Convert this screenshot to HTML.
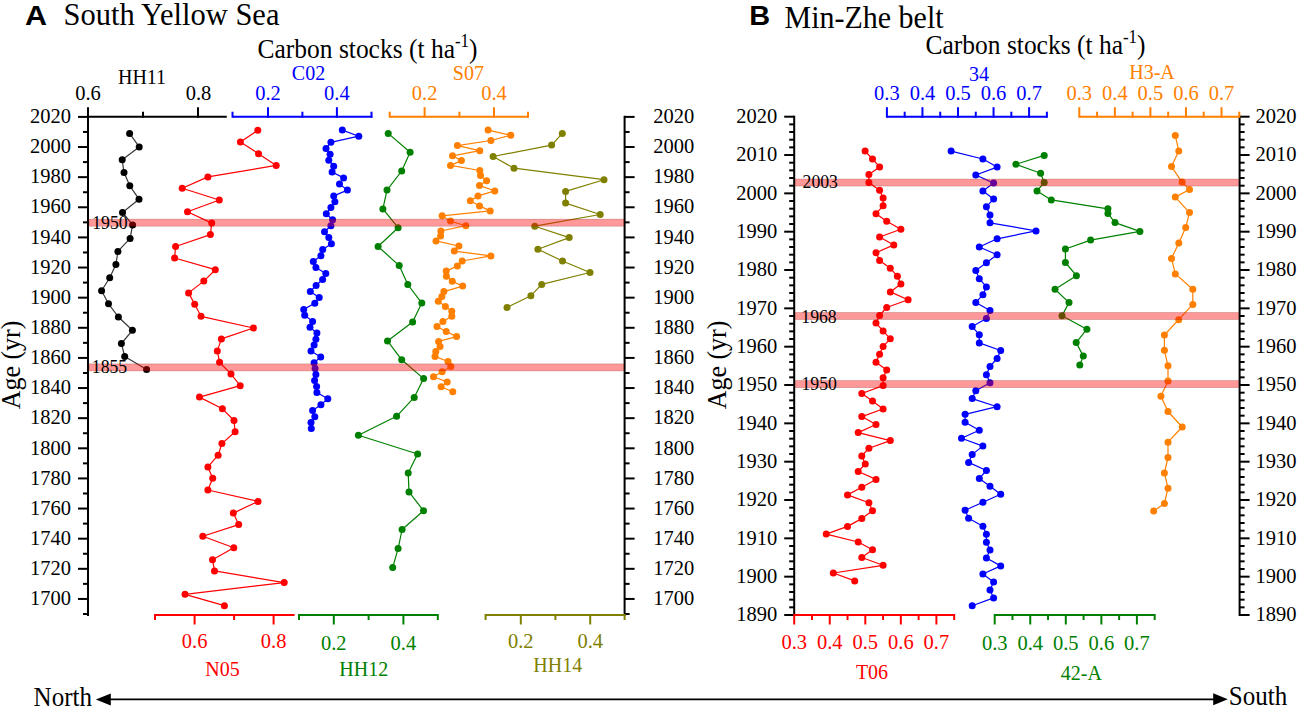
<!DOCTYPE html>
<html><head><meta charset="utf-8"><title>Carbon stocks</title>
<style>html,body{margin:0;padding:0;background:#fff;width:1299px;height:708px;overflow:hidden;font-family:"Liberation Serif",serif}
svg{display:block}</style></head><body>
<svg width="1299" height="708" viewBox="0 0 1299 708">
<rect x="0" y="0" width="1299" height="708" fill="#ffffff"/>
<text transform="translate(25 25) scale(1.11 1)" fill="#000" font-size="27.5" font-family='"Liberation Sans", sans-serif' font-weight="bold">A</text>
<text transform="translate(63.5 24.7) scale(1 1.06)" fill="#000000" font-size="30.5" text-anchor="start" font-family='"Liberation Serif", serif' font-weight="normal" >South Yellow Sea</text>
<text transform="translate(749.3 25.3) scale(1.07 1)" fill="#000" font-size="27" font-family='"Liberation Sans", sans-serif' font-weight="bold">B</text>
<text transform="translate(784.5 28.2) scale(1 1.06)" fill="#000000" font-size="30" text-anchor="start" font-family='"Liberation Serif", serif' font-weight="normal" >Min-Zhe belt</text>
<text transform="translate(257.5 57.7) scale(1 1.05)" fill="#000" font-size="25.5" font-family='"Liberation Serif", serif'>Carbon stocks (t ha<tspan font-size="17" dy="-10.5">-1</tspan><tspan dy="10.5">)</tspan></text>
<text transform="translate(925.5 53.8) scale(1 1.05)" fill="#000" font-size="25.5" font-family='"Liberation Serif", serif'>Carbon stocks (t ha<tspan font-size="17" dy="-10.5">-1</tspan><tspan dy="10.5">)</tspan></text>
<text transform="translate(20,365) rotate(-90) scale(1 1.05)" fill="#000" font-size="26" text-anchor="middle" font-family='"Liberation Serif", serif'>Age (yr)</text>
<text transform="translate(726,365) rotate(-90) scale(1 1.05)" fill="#000" font-size="26" text-anchor="middle" font-family='"Liberation Serif", serif'>Age (yr)</text>
<line x1="88" y1="115.7" x2="88" y2="616" stroke="#000000" stroke-width="2"/>
<line x1="78" y1="116.9" x2="88" y2="116.9" stroke="#000000" stroke-width="2"/>
<text transform="translate(71 123.1) scale(1 1.06)" fill="#000000" font-size="20.5" text-anchor="end" font-family='"Liberation Serif", serif' font-weight="normal" >2020</text>
<line x1="83" y1="131.96" x2="88" y2="131.96" stroke="#000000" stroke-width="2"/>
<line x1="78" y1="147.03" x2="88" y2="147.03" stroke="#000000" stroke-width="2"/>
<text transform="translate(71 153.23) scale(1 1.06)" fill="#000000" font-size="20.5" text-anchor="end" font-family='"Liberation Serif", serif' font-weight="normal" >2000</text>
<line x1="83" y1="162.09" x2="88" y2="162.09" stroke="#000000" stroke-width="2"/>
<line x1="78" y1="177.15" x2="88" y2="177.15" stroke="#000000" stroke-width="2"/>
<text transform="translate(71 183.35) scale(1 1.06)" fill="#000000" font-size="20.5" text-anchor="end" font-family='"Liberation Serif", serif' font-weight="normal" >1980</text>
<line x1="83" y1="192.22" x2="88" y2="192.22" stroke="#000000" stroke-width="2"/>
<line x1="78" y1="207.28" x2="88" y2="207.28" stroke="#000000" stroke-width="2"/>
<text transform="translate(71 213.48) scale(1 1.06)" fill="#000000" font-size="20.5" text-anchor="end" font-family='"Liberation Serif", serif' font-weight="normal" >1960</text>
<line x1="83" y1="222.35" x2="88" y2="222.35" stroke="#000000" stroke-width="2"/>
<line x1="78" y1="237.41" x2="88" y2="237.41" stroke="#000000" stroke-width="2"/>
<text transform="translate(71 243.61) scale(1 1.06)" fill="#000000" font-size="20.5" text-anchor="end" font-family='"Liberation Serif", serif' font-weight="normal" >1940</text>
<line x1="83" y1="252.47" x2="88" y2="252.47" stroke="#000000" stroke-width="2"/>
<line x1="78" y1="267.54" x2="88" y2="267.54" stroke="#000000" stroke-width="2"/>
<text transform="translate(71 273.74) scale(1 1.06)" fill="#000000" font-size="20.5" text-anchor="end" font-family='"Liberation Serif", serif' font-weight="normal" >1920</text>
<line x1="83" y1="282.6" x2="88" y2="282.6" stroke="#000000" stroke-width="2"/>
<line x1="78" y1="297.66" x2="88" y2="297.66" stroke="#000000" stroke-width="2"/>
<text transform="translate(71 303.86) scale(1 1.06)" fill="#000000" font-size="20.5" text-anchor="end" font-family='"Liberation Serif", serif' font-weight="normal" >1900</text>
<line x1="83" y1="312.73" x2="88" y2="312.73" stroke="#000000" stroke-width="2"/>
<line x1="78" y1="327.79" x2="88" y2="327.79" stroke="#000000" stroke-width="2"/>
<text transform="translate(71 333.99) scale(1 1.06)" fill="#000000" font-size="20.5" text-anchor="end" font-family='"Liberation Serif", serif' font-weight="normal" >1880</text>
<line x1="83" y1="342.85" x2="88" y2="342.85" stroke="#000000" stroke-width="2"/>
<line x1="78" y1="357.92" x2="88" y2="357.92" stroke="#000000" stroke-width="2"/>
<text transform="translate(71 364.12) scale(1 1.06)" fill="#000000" font-size="20.5" text-anchor="end" font-family='"Liberation Serif", serif' font-weight="normal" >1860</text>
<line x1="83" y1="372.98" x2="88" y2="372.98" stroke="#000000" stroke-width="2"/>
<line x1="78" y1="388.05" x2="88" y2="388.05" stroke="#000000" stroke-width="2"/>
<text transform="translate(71 394.25) scale(1 1.06)" fill="#000000" font-size="20.5" text-anchor="end" font-family='"Liberation Serif", serif' font-weight="normal" >1840</text>
<line x1="83" y1="403.11" x2="88" y2="403.11" stroke="#000000" stroke-width="2"/>
<line x1="78" y1="418.17" x2="88" y2="418.17" stroke="#000000" stroke-width="2"/>
<text transform="translate(71 424.37) scale(1 1.06)" fill="#000000" font-size="20.5" text-anchor="end" font-family='"Liberation Serif", serif' font-weight="normal" >1820</text>
<line x1="83" y1="433.24" x2="88" y2="433.24" stroke="#000000" stroke-width="2"/>
<line x1="78" y1="448.3" x2="88" y2="448.3" stroke="#000000" stroke-width="2"/>
<text transform="translate(71 454.5) scale(1 1.06)" fill="#000000" font-size="20.5" text-anchor="end" font-family='"Liberation Serif", serif' font-weight="normal" >1800</text>
<line x1="83" y1="463.36" x2="88" y2="463.36" stroke="#000000" stroke-width="2"/>
<line x1="78" y1="478.43" x2="88" y2="478.43" stroke="#000000" stroke-width="2"/>
<text transform="translate(71 484.63) scale(1 1.06)" fill="#000000" font-size="20.5" text-anchor="end" font-family='"Liberation Serif", serif' font-weight="normal" >1780</text>
<line x1="83" y1="493.49" x2="88" y2="493.49" stroke="#000000" stroke-width="2"/>
<line x1="78" y1="508.55" x2="88" y2="508.55" stroke="#000000" stroke-width="2"/>
<text transform="translate(71 514.75) scale(1 1.06)" fill="#000000" font-size="20.5" text-anchor="end" font-family='"Liberation Serif", serif' font-weight="normal" >1760</text>
<line x1="83" y1="523.62" x2="88" y2="523.62" stroke="#000000" stroke-width="2"/>
<line x1="78" y1="538.68" x2="88" y2="538.68" stroke="#000000" stroke-width="2"/>
<text transform="translate(71 544.88) scale(1 1.06)" fill="#000000" font-size="20.5" text-anchor="end" font-family='"Liberation Serif", serif' font-weight="normal" >1740</text>
<line x1="83" y1="553.75" x2="88" y2="553.75" stroke="#000000" stroke-width="2"/>
<line x1="78" y1="568.81" x2="88" y2="568.81" stroke="#000000" stroke-width="2"/>
<text transform="translate(71 575.01) scale(1 1.06)" fill="#000000" font-size="20.5" text-anchor="end" font-family='"Liberation Serif", serif' font-weight="normal" >1720</text>
<line x1="83" y1="583.87" x2="88" y2="583.87" stroke="#000000" stroke-width="2"/>
<line x1="78" y1="598.94" x2="88" y2="598.94" stroke="#000000" stroke-width="2"/>
<text transform="translate(71 605.14) scale(1 1.06)" fill="#000000" font-size="20.5" text-anchor="end" font-family='"Liberation Serif", serif' font-weight="normal" >1700</text>
<line x1="83" y1="614" x2="88" y2="614" stroke="#000000" stroke-width="2"/>
<line x1="624.6" y1="115.7" x2="624.6" y2="616" stroke="#000000" stroke-width="2"/>
<line x1="624.6" y1="116.9" x2="634.6" y2="116.9" stroke="#000000" stroke-width="2"/>
<text transform="translate(653.3 123.1) scale(1 1.06)" fill="#000000" font-size="20.5" text-anchor="start" font-family='"Liberation Serif", serif' font-weight="normal" >2020</text>
<line x1="624.6" y1="131.96" x2="629.6" y2="131.96" stroke="#000000" stroke-width="2"/>
<line x1="624.6" y1="147.03" x2="634.6" y2="147.03" stroke="#000000" stroke-width="2"/>
<text transform="translate(653.3 153.23) scale(1 1.06)" fill="#000000" font-size="20.5" text-anchor="start" font-family='"Liberation Serif", serif' font-weight="normal" >2000</text>
<line x1="624.6" y1="162.09" x2="629.6" y2="162.09" stroke="#000000" stroke-width="2"/>
<line x1="624.6" y1="177.15" x2="634.6" y2="177.15" stroke="#000000" stroke-width="2"/>
<text transform="translate(653.3 183.35) scale(1 1.06)" fill="#000000" font-size="20.5" text-anchor="start" font-family='"Liberation Serif", serif' font-weight="normal" >1980</text>
<line x1="624.6" y1="192.22" x2="629.6" y2="192.22" stroke="#000000" stroke-width="2"/>
<line x1="624.6" y1="207.28" x2="634.6" y2="207.28" stroke="#000000" stroke-width="2"/>
<text transform="translate(653.3 213.48) scale(1 1.06)" fill="#000000" font-size="20.5" text-anchor="start" font-family='"Liberation Serif", serif' font-weight="normal" >1960</text>
<line x1="624.6" y1="222.35" x2="629.6" y2="222.35" stroke="#000000" stroke-width="2"/>
<line x1="624.6" y1="237.41" x2="634.6" y2="237.41" stroke="#000000" stroke-width="2"/>
<text transform="translate(653.3 243.61) scale(1 1.06)" fill="#000000" font-size="20.5" text-anchor="start" font-family='"Liberation Serif", serif' font-weight="normal" >1940</text>
<line x1="624.6" y1="252.47" x2="629.6" y2="252.47" stroke="#000000" stroke-width="2"/>
<line x1="624.6" y1="267.54" x2="634.6" y2="267.54" stroke="#000000" stroke-width="2"/>
<text transform="translate(653.3 273.74) scale(1 1.06)" fill="#000000" font-size="20.5" text-anchor="start" font-family='"Liberation Serif", serif' font-weight="normal" >1920</text>
<line x1="624.6" y1="282.6" x2="629.6" y2="282.6" stroke="#000000" stroke-width="2"/>
<line x1="624.6" y1="297.66" x2="634.6" y2="297.66" stroke="#000000" stroke-width="2"/>
<text transform="translate(653.3 303.86) scale(1 1.06)" fill="#000000" font-size="20.5" text-anchor="start" font-family='"Liberation Serif", serif' font-weight="normal" >1900</text>
<line x1="624.6" y1="312.73" x2="629.6" y2="312.73" stroke="#000000" stroke-width="2"/>
<line x1="624.6" y1="327.79" x2="634.6" y2="327.79" stroke="#000000" stroke-width="2"/>
<text transform="translate(653.3 333.99) scale(1 1.06)" fill="#000000" font-size="20.5" text-anchor="start" font-family='"Liberation Serif", serif' font-weight="normal" >1880</text>
<line x1="624.6" y1="342.85" x2="629.6" y2="342.85" stroke="#000000" stroke-width="2"/>
<line x1="624.6" y1="357.92" x2="634.6" y2="357.92" stroke="#000000" stroke-width="2"/>
<text transform="translate(653.3 364.12) scale(1 1.06)" fill="#000000" font-size="20.5" text-anchor="start" font-family='"Liberation Serif", serif' font-weight="normal" >1860</text>
<line x1="624.6" y1="372.98" x2="629.6" y2="372.98" stroke="#000000" stroke-width="2"/>
<line x1="624.6" y1="388.05" x2="634.6" y2="388.05" stroke="#000000" stroke-width="2"/>
<text transform="translate(653.3 394.25) scale(1 1.06)" fill="#000000" font-size="20.5" text-anchor="start" font-family='"Liberation Serif", serif' font-weight="normal" >1840</text>
<line x1="624.6" y1="403.11" x2="629.6" y2="403.11" stroke="#000000" stroke-width="2"/>
<line x1="624.6" y1="418.17" x2="634.6" y2="418.17" stroke="#000000" stroke-width="2"/>
<text transform="translate(653.3 424.37) scale(1 1.06)" fill="#000000" font-size="20.5" text-anchor="start" font-family='"Liberation Serif", serif' font-weight="normal" >1820</text>
<line x1="624.6" y1="433.24" x2="629.6" y2="433.24" stroke="#000000" stroke-width="2"/>
<line x1="624.6" y1="448.3" x2="634.6" y2="448.3" stroke="#000000" stroke-width="2"/>
<text transform="translate(653.3 454.5) scale(1 1.06)" fill="#000000" font-size="20.5" text-anchor="start" font-family='"Liberation Serif", serif' font-weight="normal" >1800</text>
<line x1="624.6" y1="463.36" x2="629.6" y2="463.36" stroke="#000000" stroke-width="2"/>
<line x1="624.6" y1="478.43" x2="634.6" y2="478.43" stroke="#000000" stroke-width="2"/>
<text transform="translate(653.3 484.63) scale(1 1.06)" fill="#000000" font-size="20.5" text-anchor="start" font-family='"Liberation Serif", serif' font-weight="normal" >1780</text>
<line x1="624.6" y1="493.49" x2="629.6" y2="493.49" stroke="#000000" stroke-width="2"/>
<line x1="624.6" y1="508.55" x2="634.6" y2="508.55" stroke="#000000" stroke-width="2"/>
<text transform="translate(653.3 514.75) scale(1 1.06)" fill="#000000" font-size="20.5" text-anchor="start" font-family='"Liberation Serif", serif' font-weight="normal" >1760</text>
<line x1="624.6" y1="523.62" x2="629.6" y2="523.62" stroke="#000000" stroke-width="2"/>
<line x1="624.6" y1="538.68" x2="634.6" y2="538.68" stroke="#000000" stroke-width="2"/>
<text transform="translate(653.3 544.88) scale(1 1.06)" fill="#000000" font-size="20.5" text-anchor="start" font-family='"Liberation Serif", serif' font-weight="normal" >1740</text>
<line x1="624.6" y1="553.75" x2="629.6" y2="553.75" stroke="#000000" stroke-width="2"/>
<line x1="624.6" y1="568.81" x2="634.6" y2="568.81" stroke="#000000" stroke-width="2"/>
<text transform="translate(653.3 575.01) scale(1 1.06)" fill="#000000" font-size="20.5" text-anchor="start" font-family='"Liberation Serif", serif' font-weight="normal" >1720</text>
<line x1="624.6" y1="583.87" x2="629.6" y2="583.87" stroke="#000000" stroke-width="2"/>
<line x1="624.6" y1="598.94" x2="634.6" y2="598.94" stroke="#000000" stroke-width="2"/>
<text transform="translate(653.3 605.14) scale(1 1.06)" fill="#000000" font-size="20.5" text-anchor="start" font-family='"Liberation Serif", serif' font-weight="normal" >1700</text>
<line x1="624.6" y1="614" x2="629.6" y2="614" stroke="#000000" stroke-width="2"/>
<line x1="88" y1="116.7" x2="226.8" y2="116.7" stroke="#000000" stroke-width="2"/>
<line x1="88" y1="117.7" x2="88" y2="107.2" stroke="#000000" stroke-width="2"/>
<line x1="143" y1="117.7" x2="143" y2="111.7" stroke="#000000" stroke-width="2"/>
<line x1="198" y1="117.7" x2="198" y2="107.2" stroke="#000000" stroke-width="2"/>
<text transform="translate(88 100.2) scale(1 1.06)" fill="#000000" font-size="20.5" text-anchor="middle" font-family='"Liberation Serif", serif' font-weight="normal" >0.6</text>
<text transform="translate(198.5 100.2) scale(1 1.06)" fill="#000000" font-size="20.5" text-anchor="middle" font-family='"Liberation Serif", serif' font-weight="normal" >0.8</text>
<text transform="translate(142 83.9) scale(1 1.06)" fill="#000000" font-size="20" text-anchor="middle" font-family='"Liberation Serif", serif' font-weight="normal" >HH11</text>
<line x1="232.5" y1="116.7" x2="372.4" y2="116.7" stroke="#0000ff" stroke-width="2"/>
<line x1="232.5" y1="117.7" x2="232.5" y2="111.7" stroke="#0000ff" stroke-width="2"/>
<line x1="268" y1="117.7" x2="268" y2="107.2" stroke="#0000ff" stroke-width="2"/>
<line x1="302.4" y1="117.7" x2="302.4" y2="111.7" stroke="#0000ff" stroke-width="2"/>
<line x1="336.9" y1="117.7" x2="336.9" y2="107.2" stroke="#0000ff" stroke-width="2"/>
<line x1="371.5" y1="117.7" x2="371.5" y2="111.7" stroke="#0000ff" stroke-width="2"/>
<text transform="translate(268 100.2) scale(1 1.06)" fill="#0000ff" font-size="20.5" text-anchor="middle" font-family='"Liberation Serif", serif' font-weight="normal" >0.2</text>
<text transform="translate(336.9 100.2) scale(1 1.06)" fill="#0000ff" font-size="20.5" text-anchor="middle" font-family='"Liberation Serif", serif' font-weight="normal" >0.4</text>
<text transform="translate(308.5 80.3) scale(1 1.06)" fill="#0000ff" font-size="20" text-anchor="middle" font-family='"Liberation Serif", serif' font-weight="normal" >C02</text>
<line x1="389.7" y1="116.7" x2="528.7" y2="116.7" stroke="#ff8000" stroke-width="2"/>
<line x1="389.7" y1="117.7" x2="389.7" y2="111.7" stroke="#ff8000" stroke-width="2"/>
<line x1="424.6" y1="117.7" x2="424.6" y2="107.2" stroke="#ff8000" stroke-width="2"/>
<line x1="459.4" y1="117.7" x2="459.4" y2="111.7" stroke="#ff8000" stroke-width="2"/>
<line x1="494" y1="117.7" x2="494" y2="107.2" stroke="#ff8000" stroke-width="2"/>
<line x1="528" y1="117.7" x2="528" y2="111.7" stroke="#ff8000" stroke-width="2"/>
<text transform="translate(424.6 100.2) scale(1 1.06)" fill="#ff8000" font-size="20.5" text-anchor="middle" font-family='"Liberation Serif", serif' font-weight="normal" >0.2</text>
<text transform="translate(494 100.2) scale(1 1.06)" fill="#ff8000" font-size="20.5" text-anchor="middle" font-family='"Liberation Serif", serif' font-weight="normal" >0.4</text>
<text transform="translate(468.4 80) scale(1 1.06)" fill="#ff8000" font-size="20" text-anchor="middle" font-family='"Liberation Serif", serif' font-weight="normal" >S07</text>
<line x1="155" y1="615" x2="294.6" y2="615" stroke="#ff0000" stroke-width="2"/>
<line x1="155" y1="614" x2="155" y2="620" stroke="#ff0000" stroke-width="2"/>
<line x1="194.6" y1="614" x2="194.6" y2="624.5" stroke="#ff0000" stroke-width="2"/>
<line x1="234.1" y1="614" x2="234.1" y2="620" stroke="#ff0000" stroke-width="2"/>
<line x1="273.6" y1="614" x2="273.6" y2="624.5" stroke="#ff0000" stroke-width="2"/>
<text transform="translate(194.6 648) scale(1 1.06)" fill="#ff0000" font-size="20.5" text-anchor="middle" font-family='"Liberation Serif", serif' font-weight="normal" >0.6</text>
<text transform="translate(273.6 648) scale(1 1.06)" fill="#ff0000" font-size="20.5" text-anchor="middle" font-family='"Liberation Serif", serif' font-weight="normal" >0.8</text>
<text transform="translate(222.5 676) scale(1 1.06)" fill="#ff0000" font-size="20" text-anchor="middle" font-family='"Liberation Serif", serif' font-weight="normal" >N05</text>
<line x1="299" y1="615" x2="438" y2="615" stroke="#008000" stroke-width="2"/>
<line x1="299" y1="614" x2="299" y2="620" stroke="#008000" stroke-width="2"/>
<line x1="333.8" y1="614" x2="333.8" y2="624.5" stroke="#008000" stroke-width="2"/>
<line x1="368.6" y1="614" x2="368.6" y2="620" stroke="#008000" stroke-width="2"/>
<line x1="403.4" y1="614" x2="403.4" y2="624.5" stroke="#008000" stroke-width="2"/>
<line x1="437.8" y1="614" x2="437.8" y2="620" stroke="#008000" stroke-width="2"/>
<text transform="translate(333.8 650) scale(1 1.06)" fill="#008000" font-size="20.5" text-anchor="middle" font-family='"Liberation Serif", serif' font-weight="normal" >0.2</text>
<text transform="translate(403.4 650) scale(1 1.06)" fill="#008000" font-size="20.5" text-anchor="middle" font-family='"Liberation Serif", serif' font-weight="normal" >0.4</text>
<text transform="translate(363.8 675.6) scale(1 1.06)" fill="#008000" font-size="20" text-anchor="middle" font-family='"Liberation Serif", serif' font-weight="normal" >HH12</text>
<line x1="485.6" y1="615" x2="625.1" y2="615" stroke="#808000" stroke-width="2"/>
<line x1="485.6" y1="614" x2="485.6" y2="620" stroke="#808000" stroke-width="2"/>
<line x1="520.8" y1="614" x2="520.8" y2="624.5" stroke="#808000" stroke-width="2"/>
<line x1="555.4" y1="614" x2="555.4" y2="620" stroke="#808000" stroke-width="2"/>
<line x1="590.2" y1="614" x2="590.2" y2="624.5" stroke="#808000" stroke-width="2"/>
<line x1="624.6" y1="614" x2="624.6" y2="620" stroke="#808000" stroke-width="2"/>
<text transform="translate(520.8 648.2) scale(1 1.06)" fill="#808000" font-size="20.5" text-anchor="middle" font-family='"Liberation Serif", serif' font-weight="normal" >0.2</text>
<text transform="translate(590.2 648.2) scale(1 1.06)" fill="#808000" font-size="20.5" text-anchor="middle" font-family='"Liberation Serif", serif' font-weight="normal" >0.4</text>
<text transform="translate(557.8 671.5) scale(1 1.06)" fill="#808000" font-size="20" text-anchor="middle" font-family='"Liberation Serif", serif' font-weight="normal" >HH14</text>
<line x1="794.2" y1="115.7" x2="794.2" y2="616" stroke="#000000" stroke-width="2"/>
<line x1="1239.6" y1="115.7" x2="1239.6" y2="616" stroke="#000000" stroke-width="2"/>
<line x1="784.2" y1="116.7" x2="794.2" y2="116.7" stroke="#000000" stroke-width="2"/>
<line x1="1239.6" y1="116.7" x2="1249.6" y2="116.7" stroke="#000000" stroke-width="2"/>
<text transform="translate(777.3 122.9) scale(1 1.06)" fill="#000000" font-size="20.5" text-anchor="end" font-family='"Liberation Serif", serif' font-weight="normal" >2020</text>
<text transform="translate(1255.5 122.9) scale(1 1.06)" fill="#000000" font-size="20.5" text-anchor="start" font-family='"Liberation Serif", serif' font-weight="normal" >2020</text>
<line x1="789.2" y1="124.37" x2="794.2" y2="124.37" stroke="#000000" stroke-width="2"/>
<line x1="1239.6" y1="124.37" x2="1244.6" y2="124.37" stroke="#000000" stroke-width="2"/>
<line x1="789.2" y1="132.03" x2="794.2" y2="132.03" stroke="#000000" stroke-width="2"/>
<line x1="1239.6" y1="132.03" x2="1244.6" y2="132.03" stroke="#000000" stroke-width="2"/>
<line x1="789.2" y1="139.7" x2="794.2" y2="139.7" stroke="#000000" stroke-width="2"/>
<line x1="1239.6" y1="139.7" x2="1244.6" y2="139.7" stroke="#000000" stroke-width="2"/>
<line x1="789.2" y1="147.36" x2="794.2" y2="147.36" stroke="#000000" stroke-width="2"/>
<line x1="1239.6" y1="147.36" x2="1244.6" y2="147.36" stroke="#000000" stroke-width="2"/>
<line x1="784.2" y1="155.03" x2="794.2" y2="155.03" stroke="#000000" stroke-width="2"/>
<line x1="1239.6" y1="155.03" x2="1249.6" y2="155.03" stroke="#000000" stroke-width="2"/>
<text transform="translate(777.3 161.23) scale(1 1.06)" fill="#000000" font-size="20.5" text-anchor="end" font-family='"Liberation Serif", serif' font-weight="normal" >2010</text>
<text transform="translate(1255.5 161.23) scale(1 1.06)" fill="#000000" font-size="20.5" text-anchor="start" font-family='"Liberation Serif", serif' font-weight="normal" >2010</text>
<line x1="789.2" y1="162.7" x2="794.2" y2="162.7" stroke="#000000" stroke-width="2"/>
<line x1="1239.6" y1="162.7" x2="1244.6" y2="162.7" stroke="#000000" stroke-width="2"/>
<line x1="789.2" y1="170.36" x2="794.2" y2="170.36" stroke="#000000" stroke-width="2"/>
<line x1="1239.6" y1="170.36" x2="1244.6" y2="170.36" stroke="#000000" stroke-width="2"/>
<line x1="789.2" y1="178.03" x2="794.2" y2="178.03" stroke="#000000" stroke-width="2"/>
<line x1="1239.6" y1="178.03" x2="1244.6" y2="178.03" stroke="#000000" stroke-width="2"/>
<line x1="789.2" y1="185.7" x2="794.2" y2="185.7" stroke="#000000" stroke-width="2"/>
<line x1="1239.6" y1="185.7" x2="1244.6" y2="185.7" stroke="#000000" stroke-width="2"/>
<line x1="784.2" y1="193.36" x2="794.2" y2="193.36" stroke="#000000" stroke-width="2"/>
<line x1="1239.6" y1="193.36" x2="1249.6" y2="193.36" stroke="#000000" stroke-width="2"/>
<text transform="translate(777.3 199.56) scale(1 1.06)" fill="#000000" font-size="20.5" text-anchor="end" font-family='"Liberation Serif", serif' font-weight="normal" >2000</text>
<text transform="translate(1255.5 199.56) scale(1 1.06)" fill="#000000" font-size="20.5" text-anchor="start" font-family='"Liberation Serif", serif' font-weight="normal" >2000</text>
<line x1="789.2" y1="201.03" x2="794.2" y2="201.03" stroke="#000000" stroke-width="2"/>
<line x1="1239.6" y1="201.03" x2="1244.6" y2="201.03" stroke="#000000" stroke-width="2"/>
<line x1="789.2" y1="208.69" x2="794.2" y2="208.69" stroke="#000000" stroke-width="2"/>
<line x1="1239.6" y1="208.69" x2="1244.6" y2="208.69" stroke="#000000" stroke-width="2"/>
<line x1="789.2" y1="216.36" x2="794.2" y2="216.36" stroke="#000000" stroke-width="2"/>
<line x1="1239.6" y1="216.36" x2="1244.6" y2="216.36" stroke="#000000" stroke-width="2"/>
<line x1="789.2" y1="224.03" x2="794.2" y2="224.03" stroke="#000000" stroke-width="2"/>
<line x1="1239.6" y1="224.03" x2="1244.6" y2="224.03" stroke="#000000" stroke-width="2"/>
<line x1="784.2" y1="231.69" x2="794.2" y2="231.69" stroke="#000000" stroke-width="2"/>
<line x1="1239.6" y1="231.69" x2="1249.6" y2="231.69" stroke="#000000" stroke-width="2"/>
<text transform="translate(777.3 237.89) scale(1 1.06)" fill="#000000" font-size="20.5" text-anchor="end" font-family='"Liberation Serif", serif' font-weight="normal" >1990</text>
<text transform="translate(1255.5 237.89) scale(1 1.06)" fill="#000000" font-size="20.5" text-anchor="start" font-family='"Liberation Serif", serif' font-weight="normal" >1990</text>
<line x1="789.2" y1="239.36" x2="794.2" y2="239.36" stroke="#000000" stroke-width="2"/>
<line x1="1239.6" y1="239.36" x2="1244.6" y2="239.36" stroke="#000000" stroke-width="2"/>
<line x1="789.2" y1="247.02" x2="794.2" y2="247.02" stroke="#000000" stroke-width="2"/>
<line x1="1239.6" y1="247.02" x2="1244.6" y2="247.02" stroke="#000000" stroke-width="2"/>
<line x1="789.2" y1="254.69" x2="794.2" y2="254.69" stroke="#000000" stroke-width="2"/>
<line x1="1239.6" y1="254.69" x2="1244.6" y2="254.69" stroke="#000000" stroke-width="2"/>
<line x1="789.2" y1="262.36" x2="794.2" y2="262.36" stroke="#000000" stroke-width="2"/>
<line x1="1239.6" y1="262.36" x2="1244.6" y2="262.36" stroke="#000000" stroke-width="2"/>
<line x1="784.2" y1="270.02" x2="794.2" y2="270.02" stroke="#000000" stroke-width="2"/>
<line x1="1239.6" y1="270.02" x2="1249.6" y2="270.02" stroke="#000000" stroke-width="2"/>
<text transform="translate(777.3 276.22) scale(1 1.06)" fill="#000000" font-size="20.5" text-anchor="end" font-family='"Liberation Serif", serif' font-weight="normal" >1980</text>
<text transform="translate(1255.5 276.22) scale(1 1.06)" fill="#000000" font-size="20.5" text-anchor="start" font-family='"Liberation Serif", serif' font-weight="normal" >1980</text>
<line x1="789.2" y1="277.69" x2="794.2" y2="277.69" stroke="#000000" stroke-width="2"/>
<line x1="1239.6" y1="277.69" x2="1244.6" y2="277.69" stroke="#000000" stroke-width="2"/>
<line x1="789.2" y1="285.36" x2="794.2" y2="285.36" stroke="#000000" stroke-width="2"/>
<line x1="1239.6" y1="285.36" x2="1244.6" y2="285.36" stroke="#000000" stroke-width="2"/>
<line x1="789.2" y1="293.02" x2="794.2" y2="293.02" stroke="#000000" stroke-width="2"/>
<line x1="1239.6" y1="293.02" x2="1244.6" y2="293.02" stroke="#000000" stroke-width="2"/>
<line x1="789.2" y1="300.69" x2="794.2" y2="300.69" stroke="#000000" stroke-width="2"/>
<line x1="1239.6" y1="300.69" x2="1244.6" y2="300.69" stroke="#000000" stroke-width="2"/>
<line x1="784.2" y1="308.35" x2="794.2" y2="308.35" stroke="#000000" stroke-width="2"/>
<line x1="1239.6" y1="308.35" x2="1249.6" y2="308.35" stroke="#000000" stroke-width="2"/>
<text transform="translate(777.3 314.55) scale(1 1.06)" fill="#000000" font-size="20.5" text-anchor="end" font-family='"Liberation Serif", serif' font-weight="normal" >1970</text>
<text transform="translate(1255.5 314.55) scale(1 1.06)" fill="#000000" font-size="20.5" text-anchor="start" font-family='"Liberation Serif", serif' font-weight="normal" >1970</text>
<line x1="789.2" y1="316.02" x2="794.2" y2="316.02" stroke="#000000" stroke-width="2"/>
<line x1="1239.6" y1="316.02" x2="1244.6" y2="316.02" stroke="#000000" stroke-width="2"/>
<line x1="789.2" y1="323.69" x2="794.2" y2="323.69" stroke="#000000" stroke-width="2"/>
<line x1="1239.6" y1="323.69" x2="1244.6" y2="323.69" stroke="#000000" stroke-width="2"/>
<line x1="789.2" y1="331.35" x2="794.2" y2="331.35" stroke="#000000" stroke-width="2"/>
<line x1="1239.6" y1="331.35" x2="1244.6" y2="331.35" stroke="#000000" stroke-width="2"/>
<line x1="789.2" y1="339.02" x2="794.2" y2="339.02" stroke="#000000" stroke-width="2"/>
<line x1="1239.6" y1="339.02" x2="1244.6" y2="339.02" stroke="#000000" stroke-width="2"/>
<line x1="784.2" y1="346.68" x2="794.2" y2="346.68" stroke="#000000" stroke-width="2"/>
<line x1="1239.6" y1="346.68" x2="1249.6" y2="346.68" stroke="#000000" stroke-width="2"/>
<text transform="translate(777.3 352.88) scale(1 1.06)" fill="#000000" font-size="20.5" text-anchor="end" font-family='"Liberation Serif", serif' font-weight="normal" >1960</text>
<text transform="translate(1255.5 352.88) scale(1 1.06)" fill="#000000" font-size="20.5" text-anchor="start" font-family='"Liberation Serif", serif' font-weight="normal" >1960</text>
<line x1="789.2" y1="354.35" x2="794.2" y2="354.35" stroke="#000000" stroke-width="2"/>
<line x1="1239.6" y1="354.35" x2="1244.6" y2="354.35" stroke="#000000" stroke-width="2"/>
<line x1="789.2" y1="362.02" x2="794.2" y2="362.02" stroke="#000000" stroke-width="2"/>
<line x1="1239.6" y1="362.02" x2="1244.6" y2="362.02" stroke="#000000" stroke-width="2"/>
<line x1="789.2" y1="369.68" x2="794.2" y2="369.68" stroke="#000000" stroke-width="2"/>
<line x1="1239.6" y1="369.68" x2="1244.6" y2="369.68" stroke="#000000" stroke-width="2"/>
<line x1="789.2" y1="377.35" x2="794.2" y2="377.35" stroke="#000000" stroke-width="2"/>
<line x1="1239.6" y1="377.35" x2="1244.6" y2="377.35" stroke="#000000" stroke-width="2"/>
<line x1="784.2" y1="385.02" x2="794.2" y2="385.02" stroke="#000000" stroke-width="2"/>
<line x1="1239.6" y1="385.02" x2="1249.6" y2="385.02" stroke="#000000" stroke-width="2"/>
<text transform="translate(777.3 391.22) scale(1 1.06)" fill="#000000" font-size="20.5" text-anchor="end" font-family='"Liberation Serif", serif' font-weight="normal" >1950</text>
<text transform="translate(1255.5 391.22) scale(1 1.06)" fill="#000000" font-size="20.5" text-anchor="start" font-family='"Liberation Serif", serif' font-weight="normal" >1950</text>
<line x1="789.2" y1="392.68" x2="794.2" y2="392.68" stroke="#000000" stroke-width="2"/>
<line x1="1239.6" y1="392.68" x2="1244.6" y2="392.68" stroke="#000000" stroke-width="2"/>
<line x1="789.2" y1="400.35" x2="794.2" y2="400.35" stroke="#000000" stroke-width="2"/>
<line x1="1239.6" y1="400.35" x2="1244.6" y2="400.35" stroke="#000000" stroke-width="2"/>
<line x1="789.2" y1="408.01" x2="794.2" y2="408.01" stroke="#000000" stroke-width="2"/>
<line x1="1239.6" y1="408.01" x2="1244.6" y2="408.01" stroke="#000000" stroke-width="2"/>
<line x1="789.2" y1="415.68" x2="794.2" y2="415.68" stroke="#000000" stroke-width="2"/>
<line x1="1239.6" y1="415.68" x2="1244.6" y2="415.68" stroke="#000000" stroke-width="2"/>
<line x1="784.2" y1="423.35" x2="794.2" y2="423.35" stroke="#000000" stroke-width="2"/>
<line x1="1239.6" y1="423.35" x2="1249.6" y2="423.35" stroke="#000000" stroke-width="2"/>
<text transform="translate(777.3 429.55) scale(1 1.06)" fill="#000000" font-size="20.5" text-anchor="end" font-family='"Liberation Serif", serif' font-weight="normal" >1940</text>
<text transform="translate(1255.5 429.55) scale(1 1.06)" fill="#000000" font-size="20.5" text-anchor="start" font-family='"Liberation Serif", serif' font-weight="normal" >1940</text>
<line x1="789.2" y1="431.01" x2="794.2" y2="431.01" stroke="#000000" stroke-width="2"/>
<line x1="1239.6" y1="431.01" x2="1244.6" y2="431.01" stroke="#000000" stroke-width="2"/>
<line x1="789.2" y1="438.68" x2="794.2" y2="438.68" stroke="#000000" stroke-width="2"/>
<line x1="1239.6" y1="438.68" x2="1244.6" y2="438.68" stroke="#000000" stroke-width="2"/>
<line x1="789.2" y1="446.34" x2="794.2" y2="446.34" stroke="#000000" stroke-width="2"/>
<line x1="1239.6" y1="446.34" x2="1244.6" y2="446.34" stroke="#000000" stroke-width="2"/>
<line x1="789.2" y1="454.01" x2="794.2" y2="454.01" stroke="#000000" stroke-width="2"/>
<line x1="1239.6" y1="454.01" x2="1244.6" y2="454.01" stroke="#000000" stroke-width="2"/>
<line x1="784.2" y1="461.68" x2="794.2" y2="461.68" stroke="#000000" stroke-width="2"/>
<line x1="1239.6" y1="461.68" x2="1249.6" y2="461.68" stroke="#000000" stroke-width="2"/>
<text transform="translate(777.3 467.88) scale(1 1.06)" fill="#000000" font-size="20.5" text-anchor="end" font-family='"Liberation Serif", serif' font-weight="normal" >1930</text>
<text transform="translate(1255.5 467.88) scale(1 1.06)" fill="#000000" font-size="20.5" text-anchor="start" font-family='"Liberation Serif", serif' font-weight="normal" >1930</text>
<line x1="789.2" y1="469.34" x2="794.2" y2="469.34" stroke="#000000" stroke-width="2"/>
<line x1="1239.6" y1="469.34" x2="1244.6" y2="469.34" stroke="#000000" stroke-width="2"/>
<line x1="789.2" y1="477.01" x2="794.2" y2="477.01" stroke="#000000" stroke-width="2"/>
<line x1="1239.6" y1="477.01" x2="1244.6" y2="477.01" stroke="#000000" stroke-width="2"/>
<line x1="789.2" y1="484.68" x2="794.2" y2="484.68" stroke="#000000" stroke-width="2"/>
<line x1="1239.6" y1="484.68" x2="1244.6" y2="484.68" stroke="#000000" stroke-width="2"/>
<line x1="789.2" y1="492.34" x2="794.2" y2="492.34" stroke="#000000" stroke-width="2"/>
<line x1="1239.6" y1="492.34" x2="1244.6" y2="492.34" stroke="#000000" stroke-width="2"/>
<line x1="784.2" y1="500.01" x2="794.2" y2="500.01" stroke="#000000" stroke-width="2"/>
<line x1="1239.6" y1="500.01" x2="1249.6" y2="500.01" stroke="#000000" stroke-width="2"/>
<text transform="translate(777.3 506.21) scale(1 1.06)" fill="#000000" font-size="20.5" text-anchor="end" font-family='"Liberation Serif", serif' font-weight="normal" >1920</text>
<text transform="translate(1255.5 506.21) scale(1 1.06)" fill="#000000" font-size="20.5" text-anchor="start" font-family='"Liberation Serif", serif' font-weight="normal" >1920</text>
<line x1="789.2" y1="507.67" x2="794.2" y2="507.67" stroke="#000000" stroke-width="2"/>
<line x1="1239.6" y1="507.67" x2="1244.6" y2="507.67" stroke="#000000" stroke-width="2"/>
<line x1="789.2" y1="515.34" x2="794.2" y2="515.34" stroke="#000000" stroke-width="2"/>
<line x1="1239.6" y1="515.34" x2="1244.6" y2="515.34" stroke="#000000" stroke-width="2"/>
<line x1="789.2" y1="523.01" x2="794.2" y2="523.01" stroke="#000000" stroke-width="2"/>
<line x1="1239.6" y1="523.01" x2="1244.6" y2="523.01" stroke="#000000" stroke-width="2"/>
<line x1="789.2" y1="530.67" x2="794.2" y2="530.67" stroke="#000000" stroke-width="2"/>
<line x1="1239.6" y1="530.67" x2="1244.6" y2="530.67" stroke="#000000" stroke-width="2"/>
<line x1="784.2" y1="538.34" x2="794.2" y2="538.34" stroke="#000000" stroke-width="2"/>
<line x1="1239.6" y1="538.34" x2="1249.6" y2="538.34" stroke="#000000" stroke-width="2"/>
<text transform="translate(777.3 544.54) scale(1 1.06)" fill="#000000" font-size="20.5" text-anchor="end" font-family='"Liberation Serif", serif' font-weight="normal" >1910</text>
<text transform="translate(1255.5 544.54) scale(1 1.06)" fill="#000000" font-size="20.5" text-anchor="start" font-family='"Liberation Serif", serif' font-weight="normal" >1910</text>
<line x1="789.2" y1="546" x2="794.2" y2="546" stroke="#000000" stroke-width="2"/>
<line x1="1239.6" y1="546" x2="1244.6" y2="546" stroke="#000000" stroke-width="2"/>
<line x1="789.2" y1="553.67" x2="794.2" y2="553.67" stroke="#000000" stroke-width="2"/>
<line x1="1239.6" y1="553.67" x2="1244.6" y2="553.67" stroke="#000000" stroke-width="2"/>
<line x1="789.2" y1="561.34" x2="794.2" y2="561.34" stroke="#000000" stroke-width="2"/>
<line x1="1239.6" y1="561.34" x2="1244.6" y2="561.34" stroke="#000000" stroke-width="2"/>
<line x1="789.2" y1="569" x2="794.2" y2="569" stroke="#000000" stroke-width="2"/>
<line x1="1239.6" y1="569" x2="1244.6" y2="569" stroke="#000000" stroke-width="2"/>
<line x1="784.2" y1="576.67" x2="794.2" y2="576.67" stroke="#000000" stroke-width="2"/>
<line x1="1239.6" y1="576.67" x2="1249.6" y2="576.67" stroke="#000000" stroke-width="2"/>
<text transform="translate(777.3 582.87) scale(1 1.06)" fill="#000000" font-size="20.5" text-anchor="end" font-family='"Liberation Serif", serif' font-weight="normal" >1900</text>
<text transform="translate(1255.5 582.87) scale(1 1.06)" fill="#000000" font-size="20.5" text-anchor="start" font-family='"Liberation Serif", serif' font-weight="normal" >1900</text>
<line x1="789.2" y1="584.34" x2="794.2" y2="584.34" stroke="#000000" stroke-width="2"/>
<line x1="1239.6" y1="584.34" x2="1244.6" y2="584.34" stroke="#000000" stroke-width="2"/>
<line x1="789.2" y1="592" x2="794.2" y2="592" stroke="#000000" stroke-width="2"/>
<line x1="1239.6" y1="592" x2="1244.6" y2="592" stroke="#000000" stroke-width="2"/>
<line x1="789.2" y1="599.67" x2="794.2" y2="599.67" stroke="#000000" stroke-width="2"/>
<line x1="1239.6" y1="599.67" x2="1244.6" y2="599.67" stroke="#000000" stroke-width="2"/>
<line x1="789.2" y1="607.33" x2="794.2" y2="607.33" stroke="#000000" stroke-width="2"/>
<line x1="1239.6" y1="607.33" x2="1244.6" y2="607.33" stroke="#000000" stroke-width="2"/>
<line x1="784.2" y1="615" x2="794.2" y2="615" stroke="#000000" stroke-width="2"/>
<line x1="1239.6" y1="615" x2="1249.6" y2="615" stroke="#000000" stroke-width="2"/>
<text transform="translate(777.3 621.2) scale(1 1.06)" fill="#000000" font-size="20.5" text-anchor="end" font-family='"Liberation Serif", serif' font-weight="normal" >1890</text>
<text transform="translate(1255.5 621.2) scale(1 1.06)" fill="#000000" font-size="20.5" text-anchor="start" font-family='"Liberation Serif", serif' font-weight="normal" >1890</text>
<line x1="886.9" y1="116.7" x2="1047.4" y2="116.7" stroke="#0000ff" stroke-width="2"/>
<line x1="886.9" y1="117.7" x2="886.9" y2="107.2" stroke="#0000ff" stroke-width="2"/>
<line x1="904.67" y1="117.7" x2="904.67" y2="111.7" stroke="#0000ff" stroke-width="2"/>
<line x1="922.45" y1="117.7" x2="922.45" y2="107.2" stroke="#0000ff" stroke-width="2"/>
<line x1="940.23" y1="117.7" x2="940.23" y2="111.7" stroke="#0000ff" stroke-width="2"/>
<line x1="958" y1="117.7" x2="958" y2="107.2" stroke="#0000ff" stroke-width="2"/>
<line x1="975.77" y1="117.7" x2="975.77" y2="111.7" stroke="#0000ff" stroke-width="2"/>
<line x1="993.55" y1="117.7" x2="993.55" y2="107.2" stroke="#0000ff" stroke-width="2"/>
<line x1="1011.32" y1="117.7" x2="1011.32" y2="111.7" stroke="#0000ff" stroke-width="2"/>
<line x1="1029.1" y1="117.7" x2="1029.1" y2="107.2" stroke="#0000ff" stroke-width="2"/>
<line x1="1046.88" y1="117.7" x2="1046.88" y2="111.7" stroke="#0000ff" stroke-width="2"/>
<text transform="translate(886.9 100) scale(1 1.06)" fill="#0000ff" font-size="20.5" text-anchor="middle" font-family='"Liberation Serif", serif' font-weight="normal" >0.3</text>
<text transform="translate(922.45 100) scale(1 1.06)" fill="#0000ff" font-size="20.5" text-anchor="middle" font-family='"Liberation Serif", serif' font-weight="normal" >0.4</text>
<text transform="translate(958 100) scale(1 1.06)" fill="#0000ff" font-size="20.5" text-anchor="middle" font-family='"Liberation Serif", serif' font-weight="normal" >0.5</text>
<text transform="translate(993.55 100) scale(1 1.06)" fill="#0000ff" font-size="20.5" text-anchor="middle" font-family='"Liberation Serif", serif' font-weight="normal" >0.6</text>
<text transform="translate(1029.1 100) scale(1 1.06)" fill="#0000ff" font-size="20.5" text-anchor="middle" font-family='"Liberation Serif", serif' font-weight="normal" >0.7</text>
<text transform="translate(979 80.5) scale(1 1.06)" fill="#0000ff" font-size="20" text-anchor="middle" font-family='"Liberation Serif", serif' font-weight="normal" >34</text>
<line x1="1079.3" y1="116.7" x2="1239.4" y2="116.7" stroke="#ff8000" stroke-width="2"/>
<line x1="1079.3" y1="117.7" x2="1079.3" y2="107.2" stroke="#ff8000" stroke-width="2"/>
<line x1="1097.08" y1="117.7" x2="1097.08" y2="111.7" stroke="#ff8000" stroke-width="2"/>
<line x1="1114.85" y1="117.7" x2="1114.85" y2="107.2" stroke="#ff8000" stroke-width="2"/>
<line x1="1132.62" y1="117.7" x2="1132.62" y2="111.7" stroke="#ff8000" stroke-width="2"/>
<line x1="1150.4" y1="117.7" x2="1150.4" y2="107.2" stroke="#ff8000" stroke-width="2"/>
<line x1="1168.17" y1="117.7" x2="1168.17" y2="111.7" stroke="#ff8000" stroke-width="2"/>
<line x1="1185.95" y1="117.7" x2="1185.95" y2="107.2" stroke="#ff8000" stroke-width="2"/>
<line x1="1203.72" y1="117.7" x2="1203.72" y2="111.7" stroke="#ff8000" stroke-width="2"/>
<line x1="1221.5" y1="117.7" x2="1221.5" y2="107.2" stroke="#ff8000" stroke-width="2"/>
<line x1="1239.27" y1="117.7" x2="1239.27" y2="111.7" stroke="#ff8000" stroke-width="2"/>
<text transform="translate(1079.3 100) scale(1 1.06)" fill="#ff8000" font-size="20.5" text-anchor="middle" font-family='"Liberation Serif", serif' font-weight="normal" >0.3</text>
<text transform="translate(1114.85 100) scale(1 1.06)" fill="#ff8000" font-size="20.5" text-anchor="middle" font-family='"Liberation Serif", serif' font-weight="normal" >0.4</text>
<text transform="translate(1150.4 100) scale(1 1.06)" fill="#ff8000" font-size="20.5" text-anchor="middle" font-family='"Liberation Serif", serif' font-weight="normal" >0.5</text>
<text transform="translate(1185.95 100) scale(1 1.06)" fill="#ff8000" font-size="20.5" text-anchor="middle" font-family='"Liberation Serif", serif' font-weight="normal" >0.6</text>
<text transform="translate(1221.5 100) scale(1 1.06)" fill="#ff8000" font-size="20.5" text-anchor="middle" font-family='"Liberation Serif", serif' font-weight="normal" >0.7</text>
<text transform="translate(1152 78.8) scale(1 1.06)" fill="#ff8000" font-size="20" text-anchor="middle" font-family='"Liberation Serif", serif' font-weight="normal" >H3-A</text>
<line x1="794.2" y1="615" x2="954.2" y2="615" stroke="#ff0000" stroke-width="2"/>
<line x1="794.2" y1="614" x2="794.2" y2="624.5" stroke="#ff0000" stroke-width="2"/>
<line x1="811.98" y1="614" x2="811.98" y2="620" stroke="#ff0000" stroke-width="2"/>
<line x1="829.75" y1="614" x2="829.75" y2="624.5" stroke="#ff0000" stroke-width="2"/>
<line x1="847.53" y1="614" x2="847.53" y2="620" stroke="#ff0000" stroke-width="2"/>
<line x1="865.3" y1="614" x2="865.3" y2="624.5" stroke="#ff0000" stroke-width="2"/>
<line x1="883.08" y1="614" x2="883.08" y2="620" stroke="#ff0000" stroke-width="2"/>
<line x1="900.85" y1="614" x2="900.85" y2="624.5" stroke="#ff0000" stroke-width="2"/>
<line x1="918.62" y1="614" x2="918.62" y2="620" stroke="#ff0000" stroke-width="2"/>
<line x1="936.4" y1="614" x2="936.4" y2="624.5" stroke="#ff0000" stroke-width="2"/>
<line x1="954.18" y1="614" x2="954.18" y2="620" stroke="#ff0000" stroke-width="2"/>
<text transform="translate(794.2 649) scale(1 1.06)" fill="#ff0000" font-size="20.5" text-anchor="middle" font-family='"Liberation Serif", serif' font-weight="normal" >0.3</text>
<text transform="translate(829.75 649) scale(1 1.06)" fill="#ff0000" font-size="20.5" text-anchor="middle" font-family='"Liberation Serif", serif' font-weight="normal" >0.4</text>
<text transform="translate(865.3 649) scale(1 1.06)" fill="#ff0000" font-size="20.5" text-anchor="middle" font-family='"Liberation Serif", serif' font-weight="normal" >0.5</text>
<text transform="translate(900.85 649) scale(1 1.06)" fill="#ff0000" font-size="20.5" text-anchor="middle" font-family='"Liberation Serif", serif' font-weight="normal" >0.6</text>
<text transform="translate(936.4 649) scale(1 1.06)" fill="#ff0000" font-size="20.5" text-anchor="middle" font-family='"Liberation Serif", serif' font-weight="normal" >0.7</text>
<text transform="translate(872 679) scale(1 1.06)" fill="#ff0000" font-size="20" text-anchor="middle" font-family='"Liberation Serif", serif' font-weight="normal" >T06</text>
<line x1="994.7" y1="615" x2="1154.4" y2="615" stroke="#008000" stroke-width="2"/>
<line x1="994.7" y1="614" x2="994.7" y2="624.5" stroke="#008000" stroke-width="2"/>
<line x1="1012.48" y1="614" x2="1012.48" y2="620" stroke="#008000" stroke-width="2"/>
<line x1="1030.25" y1="614" x2="1030.25" y2="624.5" stroke="#008000" stroke-width="2"/>
<line x1="1048.03" y1="614" x2="1048.03" y2="620" stroke="#008000" stroke-width="2"/>
<line x1="1065.8" y1="614" x2="1065.8" y2="624.5" stroke="#008000" stroke-width="2"/>
<line x1="1083.58" y1="614" x2="1083.58" y2="620" stroke="#008000" stroke-width="2"/>
<line x1="1101.35" y1="614" x2="1101.35" y2="624.5" stroke="#008000" stroke-width="2"/>
<line x1="1119.12" y1="614" x2="1119.12" y2="620" stroke="#008000" stroke-width="2"/>
<line x1="1136.9" y1="614" x2="1136.9" y2="624.5" stroke="#008000" stroke-width="2"/>
<line x1="1154.67" y1="614" x2="1154.67" y2="620" stroke="#008000" stroke-width="2"/>
<text transform="translate(994.7 650) scale(1 1.06)" fill="#008000" font-size="20.5" text-anchor="middle" font-family='"Liberation Serif", serif' font-weight="normal" >0.3</text>
<text transform="translate(1030.25 650) scale(1 1.06)" fill="#008000" font-size="20.5" text-anchor="middle" font-family='"Liberation Serif", serif' font-weight="normal" >0.4</text>
<text transform="translate(1065.8 650) scale(1 1.06)" fill="#008000" font-size="20.5" text-anchor="middle" font-family='"Liberation Serif", serif' font-weight="normal" >0.5</text>
<text transform="translate(1101.35 650) scale(1 1.06)" fill="#008000" font-size="20.5" text-anchor="middle" font-family='"Liberation Serif", serif' font-weight="normal" >0.6</text>
<text transform="translate(1136.9 650) scale(1 1.06)" fill="#008000" font-size="20.5" text-anchor="middle" font-family='"Liberation Serif", serif' font-weight="normal" >0.7</text>
<text transform="translate(1081.3 679.5) scale(1 1.06)" fill="#008000" font-size="20" text-anchor="middle" font-family='"Liberation Serif", serif' font-weight="normal" >42-A</text>
<path d="M129.6 133.4 L139.2 146.9 L122.2 159.8 L124 172.5 L129.8 185.8 L139 199.2 L122.5 212.5 L132.6 224.9 L130.1 238.4 L117.9 251.4 L115.9 264.6 L109.7 277.8 L101.6 290.8 L108.5 303.8 L118.4 317 L132.4 330.3 L121.4 343.5 L124.7 356.4 L146.6 369.4" fill="none" stroke="#383838" stroke-width="1.2" stroke-linejoin="round"/>
<circle cx="129.6" cy="133.4" r="3.5" fill="#000000"/>
<circle cx="139.2" cy="146.9" r="3.5" fill="#000000"/>
<circle cx="122.2" cy="159.8" r="3.5" fill="#000000"/>
<circle cx="124" cy="172.5" r="3.5" fill="#000000"/>
<circle cx="129.8" cy="185.8" r="3.5" fill="#000000"/>
<circle cx="139" cy="199.2" r="3.5" fill="#000000"/>
<circle cx="122.5" cy="212.5" r="3.5" fill="#000000"/>
<circle cx="132.6" cy="224.9" r="3.5" fill="#000000"/>
<circle cx="130.1" cy="238.4" r="3.5" fill="#000000"/>
<circle cx="117.9" cy="251.4" r="3.5" fill="#000000"/>
<circle cx="115.9" cy="264.6" r="3.5" fill="#000000"/>
<circle cx="109.7" cy="277.8" r="3.5" fill="#000000"/>
<circle cx="101.6" cy="290.8" r="3.5" fill="#000000"/>
<circle cx="108.5" cy="303.8" r="3.5" fill="#000000"/>
<circle cx="118.4" cy="317" r="3.5" fill="#000000"/>
<circle cx="132.4" cy="330.3" r="3.5" fill="#000000"/>
<circle cx="121.4" cy="343.5" r="3.5" fill="#000000"/>
<circle cx="124.7" cy="356.4" r="3.5" fill="#000000"/>
<circle cx="146.6" cy="369.4" r="3.5" fill="#000000"/>
<path d="M257.8 130.3 L240.4 142 L258.5 153.7 L276.2 165.4 L207.9 176.9 L182.2 188.3 L219.3 200 L187.5 211.7 L211.7 223.1 L210.4 234.6 L175.6 246.5 L174.6 258 L215.3 269.7 L203.8 281.1 L188.6 292.9 L194.7 304.3 L201 316.3 L253.4 328 L221.4 338.9 L217.3 350.9 L219.6 362.3 L231 374 L240.2 385.7 L199.5 397.1 L222.4 408.8 L234 420.5 L235.1 431.8 L221.9 443.6 L218.1 455.2 L207.9 466.9 L212.7 478.3 L207.9 490 L258 501.4 L233.3 513.1 L238.7 524.6 L202.8 536.3 L233.8 547.7 L212.5 559.7 L214.5 570.9 L284.2 582.6 L185 594.3 L224.4 605.7" fill="none" stroke="#ff0000" stroke-width="1.2" stroke-linejoin="round"/>
<circle cx="257.8" cy="130.3" r="3.5" fill="#ff0000"/>
<circle cx="240.4" cy="142" r="3.5" fill="#ff0000"/>
<circle cx="258.5" cy="153.7" r="3.5" fill="#ff0000"/>
<circle cx="276.2" cy="165.4" r="3.5" fill="#ff0000"/>
<circle cx="207.9" cy="176.9" r="3.5" fill="#ff0000"/>
<circle cx="182.2" cy="188.3" r="3.5" fill="#ff0000"/>
<circle cx="219.3" cy="200" r="3.5" fill="#ff0000"/>
<circle cx="187.5" cy="211.7" r="3.5" fill="#ff0000"/>
<circle cx="211.7" cy="223.1" r="3.5" fill="#ff0000"/>
<circle cx="210.4" cy="234.6" r="3.5" fill="#ff0000"/>
<circle cx="175.6" cy="246.5" r="3.5" fill="#ff0000"/>
<circle cx="174.6" cy="258" r="3.5" fill="#ff0000"/>
<circle cx="215.3" cy="269.7" r="3.5" fill="#ff0000"/>
<circle cx="203.8" cy="281.1" r="3.5" fill="#ff0000"/>
<circle cx="188.6" cy="292.9" r="3.5" fill="#ff0000"/>
<circle cx="194.7" cy="304.3" r="3.5" fill="#ff0000"/>
<circle cx="201" cy="316.3" r="3.5" fill="#ff0000"/>
<circle cx="253.4" cy="328" r="3.5" fill="#ff0000"/>
<circle cx="221.4" cy="338.9" r="3.5" fill="#ff0000"/>
<circle cx="217.3" cy="350.9" r="3.5" fill="#ff0000"/>
<circle cx="219.6" cy="362.3" r="3.5" fill="#ff0000"/>
<circle cx="231" cy="374" r="3.5" fill="#ff0000"/>
<circle cx="240.2" cy="385.7" r="3.5" fill="#ff0000"/>
<circle cx="199.5" cy="397.1" r="3.5" fill="#ff0000"/>
<circle cx="222.4" cy="408.8" r="3.5" fill="#ff0000"/>
<circle cx="234" cy="420.5" r="3.5" fill="#ff0000"/>
<circle cx="235.1" cy="431.8" r="3.5" fill="#ff0000"/>
<circle cx="221.9" cy="443.6" r="3.5" fill="#ff0000"/>
<circle cx="218.1" cy="455.2" r="3.5" fill="#ff0000"/>
<circle cx="207.9" cy="466.9" r="3.5" fill="#ff0000"/>
<circle cx="212.7" cy="478.3" r="3.5" fill="#ff0000"/>
<circle cx="207.9" cy="490" r="3.5" fill="#ff0000"/>
<circle cx="258" cy="501.4" r="3.5" fill="#ff0000"/>
<circle cx="233.3" cy="513.1" r="3.5" fill="#ff0000"/>
<circle cx="238.7" cy="524.6" r="3.5" fill="#ff0000"/>
<circle cx="202.8" cy="536.3" r="3.5" fill="#ff0000"/>
<circle cx="233.8" cy="547.7" r="3.5" fill="#ff0000"/>
<circle cx="212.5" cy="559.7" r="3.5" fill="#ff0000"/>
<circle cx="214.5" cy="570.9" r="3.5" fill="#ff0000"/>
<circle cx="284.2" cy="582.6" r="3.5" fill="#ff0000"/>
<circle cx="185" cy="594.3" r="3.5" fill="#ff0000"/>
<circle cx="224.4" cy="605.7" r="3.5" fill="#ff0000"/>
<path d="M342.3 130.1 L358.8 136.2 L330.9 142.3 L326 148.4 L330.1 154.2 L328.8 160.3 L333.7 166.2 L332.1 172 L343.6 177.9 L339.5 184 L347.4 190.1 L333.7 195.9 L334.9 201.8 L330.9 207.6 L326.3 213.7 L332.6 219.8 L330.9 225.7 L324.5 231.8 L328.8 237.6 L331.4 243.7 L322.7 249.6 L320.9 255.7 L313.3 261.5 L315.9 267.6 L325.8 273.6 L322.6 279.5 L316.1 285.5 L310.3 291.4 L319.2 297.5 L314.8 303.3 L303.7 309.4 L304.7 315.3 L312.6 321.4 L310 327.2 L316.9 333.1 L315.9 339.2 L314.1 345 L311 351.1 L320.7 357 L314.1 362.8 L315.1 368.6 L315.9 374.5 L314.6 380.6 L316.6 386.6 L316.9 392.6 L327.8 398.7 L320.9 404.8 L312.6 410.6 L314.8 416.7 L311 422.6 L311.3 428.4" fill="none" stroke="#0000ff" stroke-width="1.2" stroke-linejoin="round"/>
<circle cx="342.3" cy="130.1" r="3.5" fill="#0000ff"/>
<circle cx="358.8" cy="136.2" r="3.5" fill="#0000ff"/>
<circle cx="330.9" cy="142.3" r="3.5" fill="#0000ff"/>
<circle cx="326" cy="148.4" r="3.5" fill="#0000ff"/>
<circle cx="330.1" cy="154.2" r="3.5" fill="#0000ff"/>
<circle cx="328.8" cy="160.3" r="3.5" fill="#0000ff"/>
<circle cx="333.7" cy="166.2" r="3.5" fill="#0000ff"/>
<circle cx="332.1" cy="172" r="3.5" fill="#0000ff"/>
<circle cx="343.6" cy="177.9" r="3.5" fill="#0000ff"/>
<circle cx="339.5" cy="184" r="3.5" fill="#0000ff"/>
<circle cx="347.4" cy="190.1" r="3.5" fill="#0000ff"/>
<circle cx="333.7" cy="195.9" r="3.5" fill="#0000ff"/>
<circle cx="334.9" cy="201.8" r="3.5" fill="#0000ff"/>
<circle cx="330.9" cy="207.6" r="3.5" fill="#0000ff"/>
<circle cx="326.3" cy="213.7" r="3.5" fill="#0000ff"/>
<circle cx="332.6" cy="219.8" r="3.5" fill="#0000ff"/>
<circle cx="330.9" cy="225.7" r="3.5" fill="#0000ff"/>
<circle cx="324.5" cy="231.8" r="3.5" fill="#0000ff"/>
<circle cx="328.8" cy="237.6" r="3.5" fill="#0000ff"/>
<circle cx="331.4" cy="243.7" r="3.5" fill="#0000ff"/>
<circle cx="322.7" cy="249.6" r="3.5" fill="#0000ff"/>
<circle cx="320.9" cy="255.7" r="3.5" fill="#0000ff"/>
<circle cx="313.3" cy="261.5" r="3.5" fill="#0000ff"/>
<circle cx="315.9" cy="267.6" r="3.5" fill="#0000ff"/>
<circle cx="325.8" cy="273.6" r="3.5" fill="#0000ff"/>
<circle cx="322.6" cy="279.5" r="3.5" fill="#0000ff"/>
<circle cx="316.1" cy="285.5" r="3.5" fill="#0000ff"/>
<circle cx="310.3" cy="291.4" r="3.5" fill="#0000ff"/>
<circle cx="319.2" cy="297.5" r="3.5" fill="#0000ff"/>
<circle cx="314.8" cy="303.3" r="3.5" fill="#0000ff"/>
<circle cx="303.7" cy="309.4" r="3.5" fill="#0000ff"/>
<circle cx="304.7" cy="315.3" r="3.5" fill="#0000ff"/>
<circle cx="312.6" cy="321.4" r="3.5" fill="#0000ff"/>
<circle cx="310" cy="327.2" r="3.5" fill="#0000ff"/>
<circle cx="316.9" cy="333.1" r="3.5" fill="#0000ff"/>
<circle cx="315.9" cy="339.2" r="3.5" fill="#0000ff"/>
<circle cx="314.1" cy="345" r="3.5" fill="#0000ff"/>
<circle cx="311" cy="351.1" r="3.5" fill="#0000ff"/>
<circle cx="320.7" cy="357" r="3.5" fill="#0000ff"/>
<circle cx="314.1" cy="362.8" r="3.5" fill="#0000ff"/>
<circle cx="315.1" cy="368.6" r="3.5" fill="#0000ff"/>
<circle cx="315.9" cy="374.5" r="3.5" fill="#0000ff"/>
<circle cx="314.6" cy="380.6" r="3.5" fill="#0000ff"/>
<circle cx="316.6" cy="386.6" r="3.5" fill="#0000ff"/>
<circle cx="316.9" cy="392.6" r="3.5" fill="#0000ff"/>
<circle cx="327.8" cy="398.7" r="3.5" fill="#0000ff"/>
<circle cx="320.9" cy="404.8" r="3.5" fill="#0000ff"/>
<circle cx="312.6" cy="410.6" r="3.5" fill="#0000ff"/>
<circle cx="314.8" cy="416.7" r="3.5" fill="#0000ff"/>
<circle cx="311" cy="422.6" r="3.5" fill="#0000ff"/>
<circle cx="311.3" cy="428.4" r="3.5" fill="#0000ff"/>
<path d="M388.2 133.4 L410.1 152.2 L401.7 171 L387 190.1 L382.9 208.9 L398.1 227.7 L378.1 246.5 L399.2 265.6 L407.8 284.5 L421.8 303.1 L412.6 321.9 L387.5 340.9 L401.7 359.8 L423.6 378.6 L414.2 397.4 L396.6 416.3 L358.4 435.2 L417.6 454 L408.2 473.1 L409 491.9 L423.5 510.7 L402.1 529.5 L398.1 548.6 L392.7 567.4" fill="none" stroke="#008000" stroke-width="1.2" stroke-linejoin="round"/>
<circle cx="388.2" cy="133.4" r="3.5" fill="#008000"/>
<circle cx="410.1" cy="152.2" r="3.5" fill="#008000"/>
<circle cx="401.7" cy="171" r="3.5" fill="#008000"/>
<circle cx="387" cy="190.1" r="3.5" fill="#008000"/>
<circle cx="382.9" cy="208.9" r="3.5" fill="#008000"/>
<circle cx="398.1" cy="227.7" r="3.5" fill="#008000"/>
<circle cx="378.1" cy="246.5" r="3.5" fill="#008000"/>
<circle cx="399.2" cy="265.6" r="3.5" fill="#008000"/>
<circle cx="407.8" cy="284.5" r="3.5" fill="#008000"/>
<circle cx="421.8" cy="303.1" r="3.5" fill="#008000"/>
<circle cx="412.6" cy="321.9" r="3.5" fill="#008000"/>
<circle cx="387.5" cy="340.9" r="3.5" fill="#008000"/>
<circle cx="401.7" cy="359.8" r="3.5" fill="#008000"/>
<circle cx="423.6" cy="378.6" r="3.5" fill="#008000"/>
<circle cx="414.2" cy="397.4" r="3.5" fill="#008000"/>
<circle cx="396.6" cy="416.3" r="3.5" fill="#008000"/>
<circle cx="358.4" cy="435.2" r="3.5" fill="#008000"/>
<circle cx="417.6" cy="454" r="3.5" fill="#008000"/>
<circle cx="408.2" cy="473.1" r="3.5" fill="#008000"/>
<circle cx="409" cy="491.9" r="3.5" fill="#008000"/>
<circle cx="423.5" cy="510.7" r="3.5" fill="#008000"/>
<circle cx="402.1" cy="529.5" r="3.5" fill="#008000"/>
<circle cx="398.1" cy="548.6" r="3.5" fill="#008000"/>
<circle cx="392.7" cy="567.4" r="3.5" fill="#008000"/>
<path d="M488.1 130.1 L510.8 135.2 L490.9 140.5 L457.4 145.6 L479.8 150.7 L452.5 155.8 L461.4 160.6 L450.5 165.4 L479.8 170.5 L480.5 175.6 L486.6 180.7 L479.5 185.5 L494.8 190.9 L478 195.9 L470.3 200.8 L479.5 205.9 L490.2 210.9 L442.1 215.8 L450.5 221.1 L465.8 225.7 L440.9 231 L440.6 236.1 L436 240.9 L458.9 246 L454.3 251.1 L490.9 255.9 L462.2 261 L457.4 265.9 L446.2 271.1 L446.4 276.2 L452.3 281.2 L462.7 286.1 L443.9 291.6 L441.9 296.4 L438.3 301.3 L445.4 306.4 L451.8 311.2 L451.8 316.3 L442.9 321.6 L437 326.4 L446.2 331.5 L456.6 336.6 L438.6 341.4 L440.1 346.5 L435.8 351.4 L435 356.4 L448 361.5 L450.8 366.6 L442.1 371.7 L433.5 376.8 L447.2 381.9 L441.1 386.7 L452.8 391.8" fill="none" stroke="#ff8000" stroke-width="1.2" stroke-linejoin="round"/>
<circle cx="488.1" cy="130.1" r="3.5" fill="#ff8000"/>
<circle cx="510.8" cy="135.2" r="3.5" fill="#ff8000"/>
<circle cx="490.9" cy="140.5" r="3.5" fill="#ff8000"/>
<circle cx="457.4" cy="145.6" r="3.5" fill="#ff8000"/>
<circle cx="479.8" cy="150.7" r="3.5" fill="#ff8000"/>
<circle cx="452.5" cy="155.8" r="3.5" fill="#ff8000"/>
<circle cx="461.4" cy="160.6" r="3.5" fill="#ff8000"/>
<circle cx="450.5" cy="165.4" r="3.5" fill="#ff8000"/>
<circle cx="479.8" cy="170.5" r="3.5" fill="#ff8000"/>
<circle cx="480.5" cy="175.6" r="3.5" fill="#ff8000"/>
<circle cx="486.6" cy="180.7" r="3.5" fill="#ff8000"/>
<circle cx="479.5" cy="185.5" r="3.5" fill="#ff8000"/>
<circle cx="494.8" cy="190.9" r="3.5" fill="#ff8000"/>
<circle cx="478" cy="195.9" r="3.5" fill="#ff8000"/>
<circle cx="470.3" cy="200.8" r="3.5" fill="#ff8000"/>
<circle cx="479.5" cy="205.9" r="3.5" fill="#ff8000"/>
<circle cx="490.2" cy="210.9" r="3.5" fill="#ff8000"/>
<circle cx="442.1" cy="215.8" r="3.5" fill="#ff8000"/>
<circle cx="450.5" cy="221.1" r="3.5" fill="#ff8000"/>
<circle cx="465.8" cy="225.7" r="3.5" fill="#ff8000"/>
<circle cx="440.9" cy="231" r="3.5" fill="#ff8000"/>
<circle cx="440.6" cy="236.1" r="3.5" fill="#ff8000"/>
<circle cx="436" cy="240.9" r="3.5" fill="#ff8000"/>
<circle cx="458.9" cy="246" r="3.5" fill="#ff8000"/>
<circle cx="454.3" cy="251.1" r="3.5" fill="#ff8000"/>
<circle cx="490.9" cy="255.9" r="3.5" fill="#ff8000"/>
<circle cx="462.2" cy="261" r="3.5" fill="#ff8000"/>
<circle cx="457.4" cy="265.9" r="3.5" fill="#ff8000"/>
<circle cx="446.2" cy="271.1" r="3.5" fill="#ff8000"/>
<circle cx="446.4" cy="276.2" r="3.5" fill="#ff8000"/>
<circle cx="452.3" cy="281.2" r="3.5" fill="#ff8000"/>
<circle cx="462.7" cy="286.1" r="3.5" fill="#ff8000"/>
<circle cx="443.9" cy="291.6" r="3.5" fill="#ff8000"/>
<circle cx="441.9" cy="296.4" r="3.5" fill="#ff8000"/>
<circle cx="438.3" cy="301.3" r="3.5" fill="#ff8000"/>
<circle cx="445.4" cy="306.4" r="3.5" fill="#ff8000"/>
<circle cx="451.8" cy="311.2" r="3.5" fill="#ff8000"/>
<circle cx="451.8" cy="316.3" r="3.5" fill="#ff8000"/>
<circle cx="442.9" cy="321.6" r="3.5" fill="#ff8000"/>
<circle cx="437" cy="326.4" r="3.5" fill="#ff8000"/>
<circle cx="446.2" cy="331.5" r="3.5" fill="#ff8000"/>
<circle cx="456.6" cy="336.6" r="3.5" fill="#ff8000"/>
<circle cx="438.6" cy="341.4" r="3.5" fill="#ff8000"/>
<circle cx="440.1" cy="346.5" r="3.5" fill="#ff8000"/>
<circle cx="435.8" cy="351.4" r="3.5" fill="#ff8000"/>
<circle cx="435" cy="356.4" r="3.5" fill="#ff8000"/>
<circle cx="448" cy="361.5" r="3.5" fill="#ff8000"/>
<circle cx="450.8" cy="366.6" r="3.5" fill="#ff8000"/>
<circle cx="442.1" cy="371.7" r="3.5" fill="#ff8000"/>
<circle cx="433.5" cy="376.8" r="3.5" fill="#ff8000"/>
<circle cx="447.2" cy="381.9" r="3.5" fill="#ff8000"/>
<circle cx="441.1" cy="386.7" r="3.5" fill="#ff8000"/>
<circle cx="452.8" cy="391.8" r="3.5" fill="#ff8000"/>
<path d="M562.3 133.4 L551.6 145.1 L493.1 156.5 L514 168.2 L604 179.7 L565.6 191.4 L565.6 203.1 L600.2 214.5 L534.8 226.2 L569.2 237.6 L537.9 249.3 L562.5 261 L590 272.5 L541.7 284.4 L530.9 295.7 L507 307.4" fill="none" stroke="#808000" stroke-width="1.2" stroke-linejoin="round"/>
<circle cx="562.3" cy="133.4" r="3.5" fill="#808000"/>
<circle cx="551.6" cy="145.1" r="3.5" fill="#808000"/>
<circle cx="493.1" cy="156.5" r="3.5" fill="#808000"/>
<circle cx="514" cy="168.2" r="3.5" fill="#808000"/>
<circle cx="604" cy="179.7" r="3.5" fill="#808000"/>
<circle cx="565.6" cy="191.4" r="3.5" fill="#808000"/>
<circle cx="565.6" cy="203.1" r="3.5" fill="#808000"/>
<circle cx="600.2" cy="214.5" r="3.5" fill="#808000"/>
<circle cx="534.8" cy="226.2" r="3.5" fill="#808000"/>
<circle cx="569.2" cy="237.6" r="3.5" fill="#808000"/>
<circle cx="537.9" cy="249.3" r="3.5" fill="#808000"/>
<circle cx="562.5" cy="261" r="3.5" fill="#808000"/>
<circle cx="590" cy="272.5" r="3.5" fill="#808000"/>
<circle cx="541.7" cy="284.4" r="3.5" fill="#808000"/>
<circle cx="530.9" cy="295.7" r="3.5" fill="#808000"/>
<circle cx="507" cy="307.4" r="3.5" fill="#808000"/>
<path d="M865.1 151.1 L872.5 159 L879.6 166.9 L868.9 174.5 L868.9 182.4 L879.6 190.3 L883.1 198.1 L883.1 205.8 L876 213.7 L886.7 221.3 L900.9 229.2 L879.6 237 L893.8 244.9 L876 252.8 L879.6 260.4 L890.3 268.3 L897.4 276.2 L900.9 284.1 L890.3 291.9 L908.1 299.7 L886.7 307.5 L879.6 315.4 L876 323.1 L883.1 330.9 L890.3 338.8 L883.1 346.4 L879.6 354.3 L876 362.2 L886.7 370.1 L883.1 377.7 L883.1 385.6 L861.8 393.5 L872.5 401.1 L883.1 409 L861.8 416.6 L876 424.5 L858.2 432.6 L890.3 440.6 L868.9 448.2 L861.8 456 L865.3 463.9 L858.2 471.5 L876 479.4 L861.8 487.3 L847.5 494.9 L868.9 502.8 L872.5 510.7 L861.8 518.6 L847.5 526.4 L826.2 534.1 L858.2 542 L872.5 549.8 L861.8 557.5 L883.1 565.3 L833.3 573 L854.7 580.9" fill="none" stroke="#ff0000" stroke-width="1.2" stroke-linejoin="round"/>
<circle cx="865.1" cy="151.1" r="3.5" fill="#ff0000"/>
<circle cx="872.5" cy="159" r="3.5" fill="#ff0000"/>
<circle cx="879.6" cy="166.9" r="3.5" fill="#ff0000"/>
<circle cx="868.9" cy="174.5" r="3.5" fill="#ff0000"/>
<circle cx="868.9" cy="182.4" r="3.5" fill="#ff0000"/>
<circle cx="879.6" cy="190.3" r="3.5" fill="#ff0000"/>
<circle cx="883.1" cy="198.1" r="3.5" fill="#ff0000"/>
<circle cx="883.1" cy="205.8" r="3.5" fill="#ff0000"/>
<circle cx="876" cy="213.7" r="3.5" fill="#ff0000"/>
<circle cx="886.7" cy="221.3" r="3.5" fill="#ff0000"/>
<circle cx="900.9" cy="229.2" r="3.5" fill="#ff0000"/>
<circle cx="879.6" cy="237" r="3.5" fill="#ff0000"/>
<circle cx="893.8" cy="244.9" r="3.5" fill="#ff0000"/>
<circle cx="876" cy="252.8" r="3.5" fill="#ff0000"/>
<circle cx="879.6" cy="260.4" r="3.5" fill="#ff0000"/>
<circle cx="890.3" cy="268.3" r="3.5" fill="#ff0000"/>
<circle cx="897.4" cy="276.2" r="3.5" fill="#ff0000"/>
<circle cx="900.9" cy="284.1" r="3.5" fill="#ff0000"/>
<circle cx="890.3" cy="291.9" r="3.5" fill="#ff0000"/>
<circle cx="908.1" cy="299.7" r="3.5" fill="#ff0000"/>
<circle cx="886.7" cy="307.5" r="3.5" fill="#ff0000"/>
<circle cx="879.6" cy="315.4" r="3.5" fill="#ff0000"/>
<circle cx="876" cy="323.1" r="3.5" fill="#ff0000"/>
<circle cx="883.1" cy="330.9" r="3.5" fill="#ff0000"/>
<circle cx="890.3" cy="338.8" r="3.5" fill="#ff0000"/>
<circle cx="883.1" cy="346.4" r="3.5" fill="#ff0000"/>
<circle cx="879.6" cy="354.3" r="3.5" fill="#ff0000"/>
<circle cx="876" cy="362.2" r="3.5" fill="#ff0000"/>
<circle cx="886.7" cy="370.1" r="3.5" fill="#ff0000"/>
<circle cx="883.1" cy="377.7" r="3.5" fill="#ff0000"/>
<circle cx="883.1" cy="385.6" r="3.5" fill="#ff0000"/>
<circle cx="861.8" cy="393.5" r="3.5" fill="#ff0000"/>
<circle cx="872.5" cy="401.1" r="3.5" fill="#ff0000"/>
<circle cx="883.1" cy="409" r="3.5" fill="#ff0000"/>
<circle cx="861.8" cy="416.6" r="3.5" fill="#ff0000"/>
<circle cx="876" cy="424.5" r="3.5" fill="#ff0000"/>
<circle cx="858.2" cy="432.6" r="3.5" fill="#ff0000"/>
<circle cx="890.3" cy="440.6" r="3.5" fill="#ff0000"/>
<circle cx="868.9" cy="448.2" r="3.5" fill="#ff0000"/>
<circle cx="861.8" cy="456" r="3.5" fill="#ff0000"/>
<circle cx="865.3" cy="463.9" r="3.5" fill="#ff0000"/>
<circle cx="858.2" cy="471.5" r="3.5" fill="#ff0000"/>
<circle cx="876" cy="479.4" r="3.5" fill="#ff0000"/>
<circle cx="861.8" cy="487.3" r="3.5" fill="#ff0000"/>
<circle cx="847.5" cy="494.9" r="3.5" fill="#ff0000"/>
<circle cx="868.9" cy="502.8" r="3.5" fill="#ff0000"/>
<circle cx="872.5" cy="510.7" r="3.5" fill="#ff0000"/>
<circle cx="861.8" cy="518.6" r="3.5" fill="#ff0000"/>
<circle cx="847.5" cy="526.4" r="3.5" fill="#ff0000"/>
<circle cx="826.2" cy="534.1" r="3.5" fill="#ff0000"/>
<circle cx="858.2" cy="542" r="3.5" fill="#ff0000"/>
<circle cx="872.5" cy="549.8" r="3.5" fill="#ff0000"/>
<circle cx="861.8" cy="557.5" r="3.5" fill="#ff0000"/>
<circle cx="883.1" cy="565.3" r="3.5" fill="#ff0000"/>
<circle cx="833.3" cy="573" r="3.5" fill="#ff0000"/>
<circle cx="854.7" cy="580.9" r="3.5" fill="#ff0000"/>
<path d="M951.1 151.1 L982.9 159 L997.1 167.1 L975.8 175 L993.6 183.1 L982.9 191 L993.6 198.9 L986.4 206.8 L990 214.9 L990 222.8 L1036 230.9 L997.1 238.8 L979.3 247 L997.1 254.8 L986.4 262.7 L975.8 270.6 L979.3 278.7 L986.4 286.9 L982.9 294.7 L975.8 302.6 L990 310.6 L986.4 318.5 L972.2 326.6 L979.3 334.7 L979.3 342.9 L1000.7 350.5 L997.1 358.4 L990 366.5 L986.4 374.7 L990 382.8 L975.8 390.7 L972.2 398.6 L997.1 406.7 L965.1 414.3 L965.1 422.2 L979.3 430.3 L961.5 438.2 L982.9 446.1 L972.2 454.4 L968.6 462.4 L986.4 470.5 L979.3 478.4 L990 486.3 L1000.7 494.2 L982.9 502.3 L965.1 510.2 L968.6 518.3 L982.9 526.2 L986.4 534.3 L986.4 542.2 L990 550.1 L986.4 558 L1000.7 565.9 L982.9 574 L993.6 581.9 L990 590 L993.6 597.9 L972.2 605.8" fill="none" stroke="#0000ff" stroke-width="1.2" stroke-linejoin="round"/>
<circle cx="951.1" cy="151.1" r="3.5" fill="#0000ff"/>
<circle cx="982.9" cy="159" r="3.5" fill="#0000ff"/>
<circle cx="997.1" cy="167.1" r="3.5" fill="#0000ff"/>
<circle cx="975.8" cy="175" r="3.5" fill="#0000ff"/>
<circle cx="993.6" cy="183.1" r="3.5" fill="#0000ff"/>
<circle cx="982.9" cy="191" r="3.5" fill="#0000ff"/>
<circle cx="993.6" cy="198.9" r="3.5" fill="#0000ff"/>
<circle cx="986.4" cy="206.8" r="3.5" fill="#0000ff"/>
<circle cx="990" cy="214.9" r="3.5" fill="#0000ff"/>
<circle cx="990" cy="222.8" r="3.5" fill="#0000ff"/>
<circle cx="1036" cy="230.9" r="3.5" fill="#0000ff"/>
<circle cx="997.1" cy="238.8" r="3.5" fill="#0000ff"/>
<circle cx="979.3" cy="247" r="3.5" fill="#0000ff"/>
<circle cx="997.1" cy="254.8" r="3.5" fill="#0000ff"/>
<circle cx="986.4" cy="262.7" r="3.5" fill="#0000ff"/>
<circle cx="975.8" cy="270.6" r="3.5" fill="#0000ff"/>
<circle cx="979.3" cy="278.7" r="3.5" fill="#0000ff"/>
<circle cx="986.4" cy="286.9" r="3.5" fill="#0000ff"/>
<circle cx="982.9" cy="294.7" r="3.5" fill="#0000ff"/>
<circle cx="975.8" cy="302.6" r="3.5" fill="#0000ff"/>
<circle cx="990" cy="310.6" r="3.5" fill="#0000ff"/>
<circle cx="986.4" cy="318.5" r="3.5" fill="#0000ff"/>
<circle cx="972.2" cy="326.6" r="3.5" fill="#0000ff"/>
<circle cx="979.3" cy="334.7" r="3.5" fill="#0000ff"/>
<circle cx="979.3" cy="342.9" r="3.5" fill="#0000ff"/>
<circle cx="1000.7" cy="350.5" r="3.5" fill="#0000ff"/>
<circle cx="997.1" cy="358.4" r="3.5" fill="#0000ff"/>
<circle cx="990" cy="366.5" r="3.5" fill="#0000ff"/>
<circle cx="986.4" cy="374.7" r="3.5" fill="#0000ff"/>
<circle cx="990" cy="382.8" r="3.5" fill="#0000ff"/>
<circle cx="975.8" cy="390.7" r="3.5" fill="#0000ff"/>
<circle cx="972.2" cy="398.6" r="3.5" fill="#0000ff"/>
<circle cx="997.1" cy="406.7" r="3.5" fill="#0000ff"/>
<circle cx="965.1" cy="414.3" r="3.5" fill="#0000ff"/>
<circle cx="965.1" cy="422.2" r="3.5" fill="#0000ff"/>
<circle cx="979.3" cy="430.3" r="3.5" fill="#0000ff"/>
<circle cx="961.5" cy="438.2" r="3.5" fill="#0000ff"/>
<circle cx="982.9" cy="446.1" r="3.5" fill="#0000ff"/>
<circle cx="972.2" cy="454.4" r="3.5" fill="#0000ff"/>
<circle cx="968.6" cy="462.4" r="3.5" fill="#0000ff"/>
<circle cx="986.4" cy="470.5" r="3.5" fill="#0000ff"/>
<circle cx="979.3" cy="478.4" r="3.5" fill="#0000ff"/>
<circle cx="990" cy="486.3" r="3.5" fill="#0000ff"/>
<circle cx="1000.7" cy="494.2" r="3.5" fill="#0000ff"/>
<circle cx="982.9" cy="502.3" r="3.5" fill="#0000ff"/>
<circle cx="965.1" cy="510.2" r="3.5" fill="#0000ff"/>
<circle cx="968.6" cy="518.3" r="3.5" fill="#0000ff"/>
<circle cx="982.9" cy="526.2" r="3.5" fill="#0000ff"/>
<circle cx="986.4" cy="534.3" r="3.5" fill="#0000ff"/>
<circle cx="986.4" cy="542.2" r="3.5" fill="#0000ff"/>
<circle cx="990" cy="550.1" r="3.5" fill="#0000ff"/>
<circle cx="986.4" cy="558" r="3.5" fill="#0000ff"/>
<circle cx="1000.7" cy="565.9" r="3.5" fill="#0000ff"/>
<circle cx="982.9" cy="574" r="3.5" fill="#0000ff"/>
<circle cx="993.6" cy="581.9" r="3.5" fill="#0000ff"/>
<circle cx="990" cy="590" r="3.5" fill="#0000ff"/>
<circle cx="993.6" cy="597.9" r="3.5" fill="#0000ff"/>
<circle cx="972.2" cy="605.8" r="3.5" fill="#0000ff"/>
<path d="M1044.2 155.4 L1015.9 164.3 L1040.6 173.2 L1044.2 182.4 L1037 191 L1051.3 199.9 L1107.9 208.8 L1107.9 213.4 L1115 222.6 L1139.9 231.4 L1090.6 240.1 L1065.4 249 L1065.4 262.5 L1076.4 275.7 L1055 289.2 L1069 302.6 L1062 315.7 L1086.9 329.2 L1076.2 342.6 L1083.3 356.1 L1079.8 365" fill="none" stroke="#008000" stroke-width="1.2" stroke-linejoin="round"/>
<circle cx="1044.2" cy="155.4" r="3.5" fill="#008000"/>
<circle cx="1015.9" cy="164.3" r="3.5" fill="#008000"/>
<circle cx="1040.6" cy="173.2" r="3.5" fill="#008000"/>
<circle cx="1044.2" cy="182.4" r="3.5" fill="#008000"/>
<circle cx="1037" cy="191" r="3.5" fill="#008000"/>
<circle cx="1051.3" cy="199.9" r="3.5" fill="#008000"/>
<circle cx="1107.9" cy="208.8" r="3.5" fill="#008000"/>
<circle cx="1107.9" cy="213.4" r="3.5" fill="#008000"/>
<circle cx="1115" cy="222.6" r="3.5" fill="#008000"/>
<circle cx="1139.9" cy="231.4" r="3.5" fill="#008000"/>
<circle cx="1090.6" cy="240.1" r="3.5" fill="#008000"/>
<circle cx="1065.4" cy="249" r="3.5" fill="#008000"/>
<circle cx="1065.4" cy="262.5" r="3.5" fill="#008000"/>
<circle cx="1076.4" cy="275.7" r="3.5" fill="#008000"/>
<circle cx="1055" cy="289.2" r="3.5" fill="#008000"/>
<circle cx="1069" cy="302.6" r="3.5" fill="#008000"/>
<circle cx="1062" cy="315.7" r="3.5" fill="#008000"/>
<circle cx="1086.9" cy="329.2" r="3.5" fill="#008000"/>
<circle cx="1076.2" cy="342.6" r="3.5" fill="#008000"/>
<circle cx="1083.3" cy="356.1" r="3.5" fill="#008000"/>
<circle cx="1079.8" cy="365" r="3.5" fill="#008000"/>
<path d="M1175.3 135.6 L1178.8 151.1 L1171.5 166.6 L1182.1 182.1 L1189.5 189.5 L1175.3 197.1 L1189.5 212.6 L1185.7 227.6 L1178.8 243.1 L1171.5 258.4 L1175.3 273.9 L1192.8 289.2 L1192.8 304.4 L1178.7 319.7 L1164.4 335 L1164.4 350.3 L1168 365.8 L1168 381 L1160.9 396.3 L1168 411.5 L1182.2 427 L1168 442.2 L1168 457.5 L1164.4 473 L1168 488.2 L1164.4 503.5 L1153.7 511.1" fill="none" stroke="#ff8000" stroke-width="1.2" stroke-linejoin="round"/>
<circle cx="1175.3" cy="135.6" r="3.5" fill="#ff8000"/>
<circle cx="1178.8" cy="151.1" r="3.5" fill="#ff8000"/>
<circle cx="1171.5" cy="166.6" r="3.5" fill="#ff8000"/>
<circle cx="1182.1" cy="182.1" r="3.5" fill="#ff8000"/>
<circle cx="1189.5" cy="189.5" r="3.5" fill="#ff8000"/>
<circle cx="1175.3" cy="197.1" r="3.5" fill="#ff8000"/>
<circle cx="1189.5" cy="212.6" r="3.5" fill="#ff8000"/>
<circle cx="1185.7" cy="227.6" r="3.5" fill="#ff8000"/>
<circle cx="1178.8" cy="243.1" r="3.5" fill="#ff8000"/>
<circle cx="1171.5" cy="258.4" r="3.5" fill="#ff8000"/>
<circle cx="1175.3" cy="273.9" r="3.5" fill="#ff8000"/>
<circle cx="1192.8" cy="289.2" r="3.5" fill="#ff8000"/>
<circle cx="1192.8" cy="304.4" r="3.5" fill="#ff8000"/>
<circle cx="1178.7" cy="319.7" r="3.5" fill="#ff8000"/>
<circle cx="1164.4" cy="335" r="3.5" fill="#ff8000"/>
<circle cx="1164.4" cy="350.3" r="3.5" fill="#ff8000"/>
<circle cx="1168" cy="365.8" r="3.5" fill="#ff8000"/>
<circle cx="1168" cy="381" r="3.5" fill="#ff8000"/>
<circle cx="1160.9" cy="396.3" r="3.5" fill="#ff8000"/>
<circle cx="1168" cy="411.5" r="3.5" fill="#ff8000"/>
<circle cx="1182.2" cy="427" r="3.5" fill="#ff8000"/>
<circle cx="1168" cy="442.2" r="3.5" fill="#ff8000"/>
<circle cx="1168" cy="457.5" r="3.5" fill="#ff8000"/>
<circle cx="1164.4" cy="473" r="3.5" fill="#ff8000"/>
<circle cx="1168" cy="488.2" r="3.5" fill="#ff8000"/>
<circle cx="1164.4" cy="503.5" r="3.5" fill="#ff8000"/>
<circle cx="1153.7" cy="511.1" r="3.5" fill="#ff8000"/>
<rect x="89" y="219.2" width="534.6" height="7" fill="rgba(255,0,0,0.40)" stroke="rgba(120,0,0,0.3)" stroke-width="0.7"/>
<rect x="89" y="363.9" width="534.6" height="7" fill="rgba(255,0,0,0.40)" stroke="rgba(120,0,0,0.3)" stroke-width="0.7"/>
<rect x="795.2" y="179.05" width="443.4" height="7" fill="rgba(255,0,0,0.40)" stroke="rgba(120,0,0,0.3)" stroke-width="0.7"/>
<rect x="795.2" y="312.5" width="443.4" height="7" fill="rgba(255,0,0,0.40)" stroke="rgba(120,0,0,0.3)" stroke-width="0.7"/>
<rect x="795.2" y="380.6" width="443.4" height="7" fill="rgba(255,0,0,0.40)" stroke="rgba(120,0,0,0.3)" stroke-width="0.7"/>
<text transform="translate(92.2 228.7) scale(1 1.06)" fill="#000000" font-size="17.7" text-anchor="start" font-family='"Liberation Serif", serif' font-weight="normal" >1950</text>
<text transform="translate(91.8 372.8) scale(1 1.06)" fill="#000000" font-size="17.7" text-anchor="start" font-family='"Liberation Serif", serif' font-weight="normal" >1855</text>
<text transform="translate(802.6 188.4) scale(1 1.06)" fill="#000000" font-size="17.7" text-anchor="start" font-family='"Liberation Serif", serif' font-weight="normal" >2003</text>
<text transform="translate(801.3 322.5) scale(1 1.06)" fill="#000000" font-size="17.7" text-anchor="start" font-family='"Liberation Serif", serif' font-weight="normal" >1968</text>
<text transform="translate(801.5 389.9) scale(1 1.06)" fill="#000000" font-size="17.7" text-anchor="start" font-family='"Liberation Serif", serif' font-weight="normal" >1950</text>
<line x1="108" y1="699.3" x2="1215" y2="699.3" stroke="#000000" stroke-width="1.8"/>
<path d="M95.8 699.4 L110.8 693.4 L110.8 705.4 Z" fill="#000"/>
<path d="M1227.8 699.3 L1213.2 693.3 L1213.2 705.3 Z" fill="#000"/>
<text transform="translate(33.6 706.3) scale(1 1.06)" fill="#000000" font-size="25" text-anchor="start" font-family='"Liberation Serif", serif' font-weight="normal" >North</text>
<text transform="translate(1228.8 705) scale(1 1.06)" fill="#000000" font-size="25" text-anchor="start" font-family='"Liberation Serif", serif' font-weight="normal" >South</text>
</svg></body></html>
